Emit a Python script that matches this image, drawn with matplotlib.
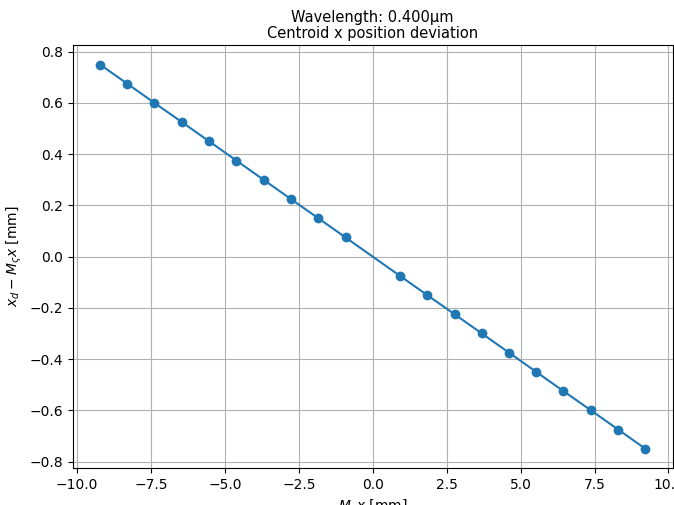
import matplotlib
matplotlib.use("Agg")
import matplotlib.pyplot as plt

# field positions (mm) and centroid deviation (mm)
x_pos = [-9.22, -8.30, -7.38, -6.45, -5.53, -4.61, -3.69, -2.77, -1.84, -0.92,
         0.92, 1.84, 2.77, 3.69, 4.61, 5.53, 6.45, 7.38, 8.30, 9.22]
x_dev = [0.750, 0.675, 0.600, 0.525, 0.450, 0.375, 0.300, 0.225, 0.150, 0.075,
         -0.075, -0.150, -0.225, -0.300, -0.375, -0.450, -0.525, -0.600, -0.675, -0.750]


def main():
    fig = plt.figure(figsize=(6.74, 5.05), dpi=100)
    ax = fig.add_axes([0.108, 0.0733, 0.890, 0.837])
    ax.plot(x_pos, x_dev, "o-", color="#1f77b4")
    ax.set_title("Wavelength: 0.400µm\nCentroid x position deviation",
                 fontsize=10.5, linespacing=1.1, pad=5)
    ax.set_xlabel(r"$M_{\varsigma}x$ [mm]")
    ax.set_ylabel(r"$x_d - M_{\varsigma}x$ [mm]")
    ax.grid(True)
    fig.savefig("out.png", dpi=100)


if __name__ == "__main__":
    main()
